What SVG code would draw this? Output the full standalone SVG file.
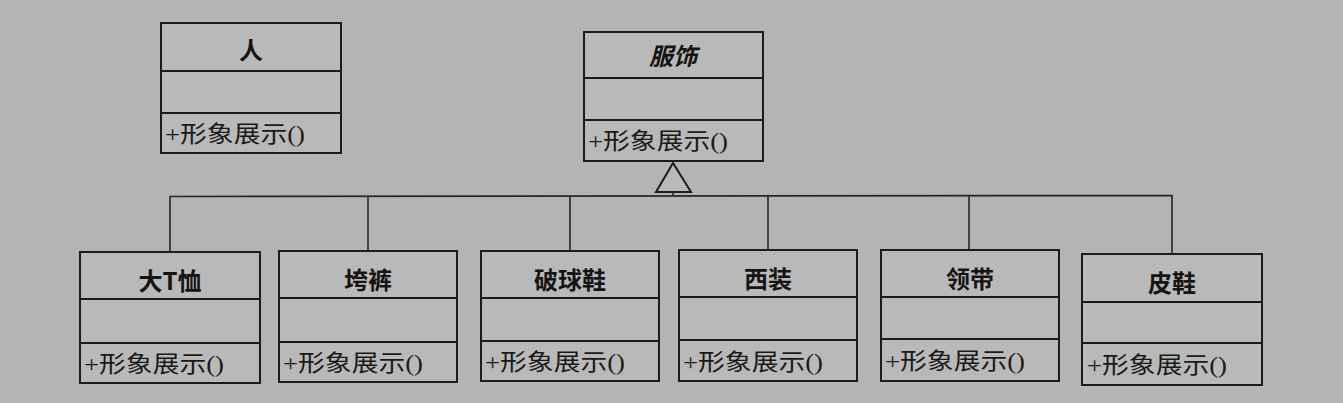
<svg xmlns="http://www.w3.org/2000/svg" width="1343" height="403" viewBox="0 0 1343 403">
<style>
.box{fill:#b9b9b9;stroke:#1c1c1c;stroke-width:2}
.div{stroke:#1c1c1c;stroke-width:2}
.conn{fill:none;stroke:#262626;stroke-width:1.6}
.title{font-family:"Noto Sans CJK SC","Liberation Sans",sans-serif;font-weight:bold;font-size:24px;fill:#141414;text-anchor:middle}
.meth{font-family:"Liberation Serif","Noto Sans CJK SC",serif;font-size:23px;fill:#1a1a1a}
</style>
<rect width="1343" height="403" fill="#b4b4b4"/>
<g id="ren">
<rect class="box" x="161" y="23" width="180" height="130"/>
<line class="div" x1="161" y1="71" x2="341" y2="71"/>
<line class="div" x1="161" y1="113" x2="341" y2="113"/>
<text class="title" x="251" y="59">人</text>
<text class="meth" x="165" y="142" textLength="140" lengthAdjust="spacingAndGlyphs">+形象展示()</text>
</g>
<g id="fushi">
<rect class="box" x="584" y="32" width="179" height="129"/>
<line class="div" x1="584" y1="78" x2="763" y2="78"/>
<line class="div" x1="584" y1="120" x2="763" y2="120"/>
<text class="title" x="673" y="65" font-style="italic">服饰</text>
<text class="meth" x="588" y="149" textLength="140" lengthAdjust="spacingAndGlyphs">+形象展示()</text>
</g>
<g id="connectors">
<polygon points="673,163 656,192 691,192" fill="#b9b9b9" stroke="#1c1c1c" stroke-width="2"/>
<line class="conn" x1="673" y1="192" x2="673" y2="196"/>
<polyline class="conn" points="170,252 170,196.5 1172,195.5 1172,254"/>
<line class="conn" x1="368" y1="196.5" x2="368" y2="251"/>
<line class="conn" x1="570" y1="196" x2="570" y2="251"/>
<line class="conn" x1="768" y1="196" x2="768" y2="250"/>
<line class="conn" x1="969" y1="196" x2="969" y2="250"/>
</g>
<g id="datxu">
<rect class="box" x="80" y="252" width="180" height="131"/>
<line class="div" x1="80" y1="299" x2="260" y2="299"/>
<line class="div" x1="80" y1="343" x2="260" y2="343"/>
<text class="title" x="170" y="290">大T恤</text>
<text class="meth" x="84" y="372" textLength="140" lengthAdjust="spacingAndGlyphs">+形象展示()</text>
</g>
<g id="kuaku">
<rect class="box" x="279" y="251" width="178" height="131"/>
<line class="div" x1="279" y1="298" x2="457" y2="298"/>
<line class="div" x1="279" y1="342" x2="457" y2="342"/>
<text class="title" x="368" y="289">垮裤</text>
<text class="meth" x="283" y="371" textLength="140" lengthAdjust="spacingAndGlyphs">+形象展示()</text>
</g>
<g id="poqiuxie">
<rect class="box" x="481" y="251" width="178" height="130"/>
<line class="div" x1="481" y1="298" x2="659" y2="298"/>
<line class="div" x1="481" y1="341" x2="659" y2="341"/>
<text class="title" x="570" y="289">破球鞋</text>
<text class="meth" x="485" y="370" textLength="140" lengthAdjust="spacingAndGlyphs">+形象展示()</text>
</g>
<g id="xizhuang">
<rect class="box" x="679" y="250" width="178" height="131"/>
<line class="div" x1="679" y1="297" x2="857" y2="297"/>
<line class="div" x1="679" y1="340" x2="857" y2="340"/>
<text class="title" x="768" y="288">西装</text>
<text class="meth" x="683" y="370" textLength="140" lengthAdjust="spacingAndGlyphs">+形象展示()</text>
</g>
<g id="lingdai">
<rect class="box" x="881" y="250" width="178" height="131"/>
<line class="div" x1="881" y1="297" x2="1059" y2="297"/>
<line class="div" x1="881" y1="339" x2="1059" y2="339"/>
<text class="title" x="970" y="288">领带</text>
<text class="meth" x="885" y="369" textLength="140" lengthAdjust="spacingAndGlyphs">+形象展示()</text>
</g>
<g id="pixie">
<rect class="box" x="1082" y="254" width="180" height="131"/>
<line class="div" x1="1082" y1="302" x2="1262" y2="302"/>
<line class="div" x1="1082" y1="343" x2="1262" y2="343"/>
<text class="title" x="1172" y="292">皮鞋</text>
<text class="meth" x="1087" y="373" textLength="140" lengthAdjust="spacingAndGlyphs">+形象展示()</text>
</g>
</svg>
